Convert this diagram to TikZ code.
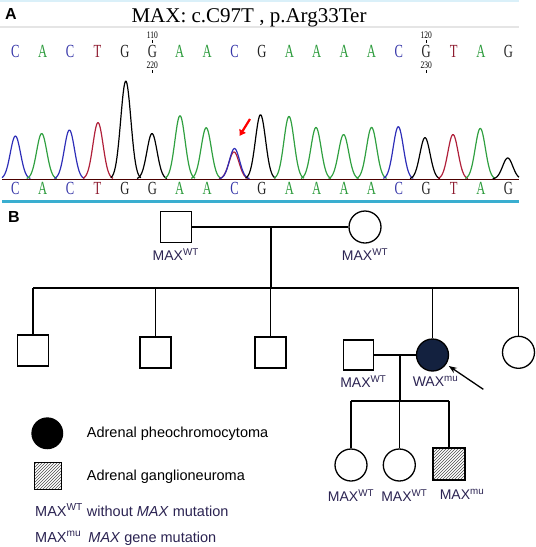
\documentclass[tikz,border=0pt]{standalone}
\usepackage{fontspec}
\setmainfont{Liberation Sans}
\newfontfamily\seqfont{Liberation Serif}
\usetikzlibrary{positioning, arrows.meta, patterns}
\definecolor{baseC}{HTML}{3535A8}
\definecolor{baseA}{HTML}{2A9A3A}
\definecolor{baseT}{HTML}{8E1C30}
\definecolor{baseG}{HTML}{222222}
\definecolor{peakblue}{HTML}{2E2EB8}
\definecolor{peakgreen}{HTML}{30A040}
\definecolor{peakred}{HTML}{B0203A}
\definecolor{rulecyan}{HTML}{3AAED0}
\definecolor{labelcol}{HTML}{2B2352}
\definecolor{probandcol}{HTML}{13213F}
\tikzstyle{male} = [rectangle, draw=black, line width=1.3pt, minimum size=31pt,
  inner sep=0pt]
\tikzstyle{female} = [circle, draw=black, line width=1.3pt, minimum size=32pt,
  inner sep=0pt]
\tikzstyle{hatched} = [pattern=north east lines, pattern color=black!70]
\tikzstyle{gtype} = [text=labelcol, font=\fontsize{14}{14}\selectfont, inner sep=0pt]
\tikzstyle{keytext} = [font=\fontsize{14.5}{14.5}\selectfont, inner sep=0pt,
  anchor=west]
\tikzstyle{seqletter} = [font=\seqfont\fontsize{18.5}{18.5}\selectfont, xscale=0.68,
  inner sep=0pt]
\tikzstyle{seqnum} = [font=\seqfont\fontsize{10}{10}\selectfont, xscale=0.75,
  inner sep=0pt]
\tikzstyle{peak} = [line width=1.2pt, line join=round]
\tikzstyle{line} = [line width=1.3pt]
\tikzstyle{arrow} = [-{Stealth[length=8pt, width=6pt]}, line width=1.3pt]

\begin{document}
\begin{tikzpicture}[x=1pt, y=-1pt]
  \useasboundingbox (0,0) rectangle (536,547);

  % panel A: chromatogram
  \draw [black!12!cyan!15, line width=1.5pt] (0,1) -- (519,1);
  \draw [black!10, line width=1.5pt] (0,27) -- (519,27);
  \node (panelA) [font=\bfseries\fontsize{16}{16}\selectfont, inner sep=0pt]
    at (11,14) {A};
  \node (title) [font=\seqfont\fontsize{21}{21}\selectfont, anchor=base,
    inner sep=0pt] at (249,22) {MAX: c.C97T , p.Arg33Ter};

  \foreach \b [count=\i from 0] in {C,A,C,T,G,G,A,A,C,G,A,A,A,A,C,G,T,A,G} {
    \node (top\i) [seqletter, text=base\b] at ({15.4+27.39*\i},51.5) {\b};
    \node (bot\i) [seqletter, text=base\b] at ({15.4+27.39*\i},188.5) {\b};
  }
  \node (n110) [seqnum] at (top5 |- 0,35) {110};
  \node (n220) [seqnum] at (top5 |- 0,65) {220};
  \node (n120) [seqnum] at (top15 |- 0,35) {120};
  \node (n230) [seqnum] at (top15 |- 0,65) {230};
  \foreach \n in {n110,n120} \draw [line width=0.6pt] (\n.south) ++(0,1.5) -- ++(0,3);
  \foreach \n in {n220,n230} \draw [line width=0.6pt] (\n.south) ++(0,1.5) -- ++(0,3);

  \draw [black!70!red, line width=0.8pt] (2,179) -- (519,179);
  \foreach \c/\h/\col in {15.4/43/peakblue, 41.7/45.5/peakgreen, 69.4/49/peakblue,
      98/56.4/peakred, 125.8/98/black, 152/45.5/black, 180/63.3/peakgreen,
      206.2/51.3/peakgreen, 234/27/peakred, 234.5/30.5/peakblue, 260.5/64.3/black,
      289/62.6/peakgreen, 316/51.6/peakgreen, 343.6/44.5/peakgreen,
      371.6/51.6/peakgreen, 398.3/52.3/peakblue, 425/41.4/black,
      453/44.5/peakred, 480.3/50.6/peakgreen, 507.7/21/black} {
    \draw [peak, \col] plot [domain={max(\c-15,2)}:{min(\c+15,519)}, samples=40]
      (\x, {179-\h*exp(-((\x-\c)/7.2)^2)});
  }
  \coordinate (redtail) at (250,119);
  \coordinate (redtip) at (239.5,136);
  \draw [red, line width=2.2pt, -{Triangle[length=6pt, width=7pt]}] (redtail) -- (redtip);
  \draw [rulecyan, line width=2.2pt] (2,201.5) -- (519,201.5);

  % panel B: pedigree
  \node (panelB) [font=\bfseries\fontsize{16}{16}\selectfont, inner sep=0pt]
    at (14,216.5) {B};
  \node (father) [male] at (175.7,227) {};
  \node (mother) [female] at (365,227) {};
  \node (fatherlbl) [gtype, below=5pt of father] {MAX\textsuperscript{WT}};
  \node (motherlbl) [gtype, below=5pt of mother] {MAX\textsuperscript{WT}};
  \coordinate (mate) at (271,227);
  \coordinate (sibs) at (271,288);

  \node (sib1) [male] at (33,350.5) {};
  \node (sib2) [male] at (155.5,352.5) {};
  \node (sib3) [male] at (270.5,352.5) {};
  \node (proband) [female, fill=probandcol] at (432.5,355) {};
  \node (sister) [female] at (518.5,352.3) {};
  \node (spouse) [male, minimum size=30pt] at (358.3,355) {};
  \node (spouselbl) [gtype, below=5pt of spouse, xshift=5pt] {MAX\textsuperscript{WT}};
  \node (probandlbl) [gtype, below=4.5pt of proband, xshift=3pt] {WAX\textsuperscript{mu}};
  \coordinate (pointer) at (483.3,389.3);
  \coordinate (mate2) at (400,355);
  \coordinate (kids) at (400,401);

  \node (child1) [female] at (351,465) {};
  \node (child2) [female] at (399.3,465) {};
  \node (son) [male, minimum size=32pt, hatched] at (449,464) {};
  \node (child1lbl) [gtype, below=8pt of child1] {MAX\textsuperscript{WT}};
  \node (child2lbl) [gtype, below=8pt of child2, xshift=5pt] {MAX\textsuperscript{WT}};
  \node (sonlbl) [gtype, below=8pt of son, xshift=13pt] {MAX\textsuperscript{mu}};

  \draw [line] (father) -- (mother);
  \draw [line] (mate) -- (sibs);
  \draw [line] (sib1.north |- sibs) -- (sister.north |- sibs);
  \foreach \s in {sib1,sib2,sib3,proband,sister}
    \draw [line] (\s.north) -- (\s.north |- sibs);
  \draw [line] (spouse) -- (proband);
  \draw [line] (mate2) -- (kids);
  \draw [line] (child1.north |- kids) -- (son.north |- kids);
  \foreach \s in {child1,child2,son}
    \draw [line] (\s.north) -- (\s.north |- kids);
  \draw [arrow, shorten >=3pt] (pointer) -- (proband);

  % legend
  \node (keypheo) [female, fill=black, minimum size=30.6pt] at (47.3,433.3) {};
  \node (keygang) [male, hatched, minimum size=27pt] at (47.7,475.7) {};
  \node (keypheotxt) [keytext] at (86.7,433.3) {Adrenal pheochromocytoma};
  \node (keygangtxt) [keytext] at (86.7,476.7) {Adrenal ganglioneuroma};
  \node (keywt) [keytext, text=labelcol] at (35,510)
    {MAX\textsuperscript{WT} without \textit{MAX} mutation};
  \node (keymu) [keytext, text=labelcol] at (35,538.3)
    {MAX\textsuperscript{mu}\enspace\textit{MAX} gene mutation};
\end{tikzpicture}
\end{document}
